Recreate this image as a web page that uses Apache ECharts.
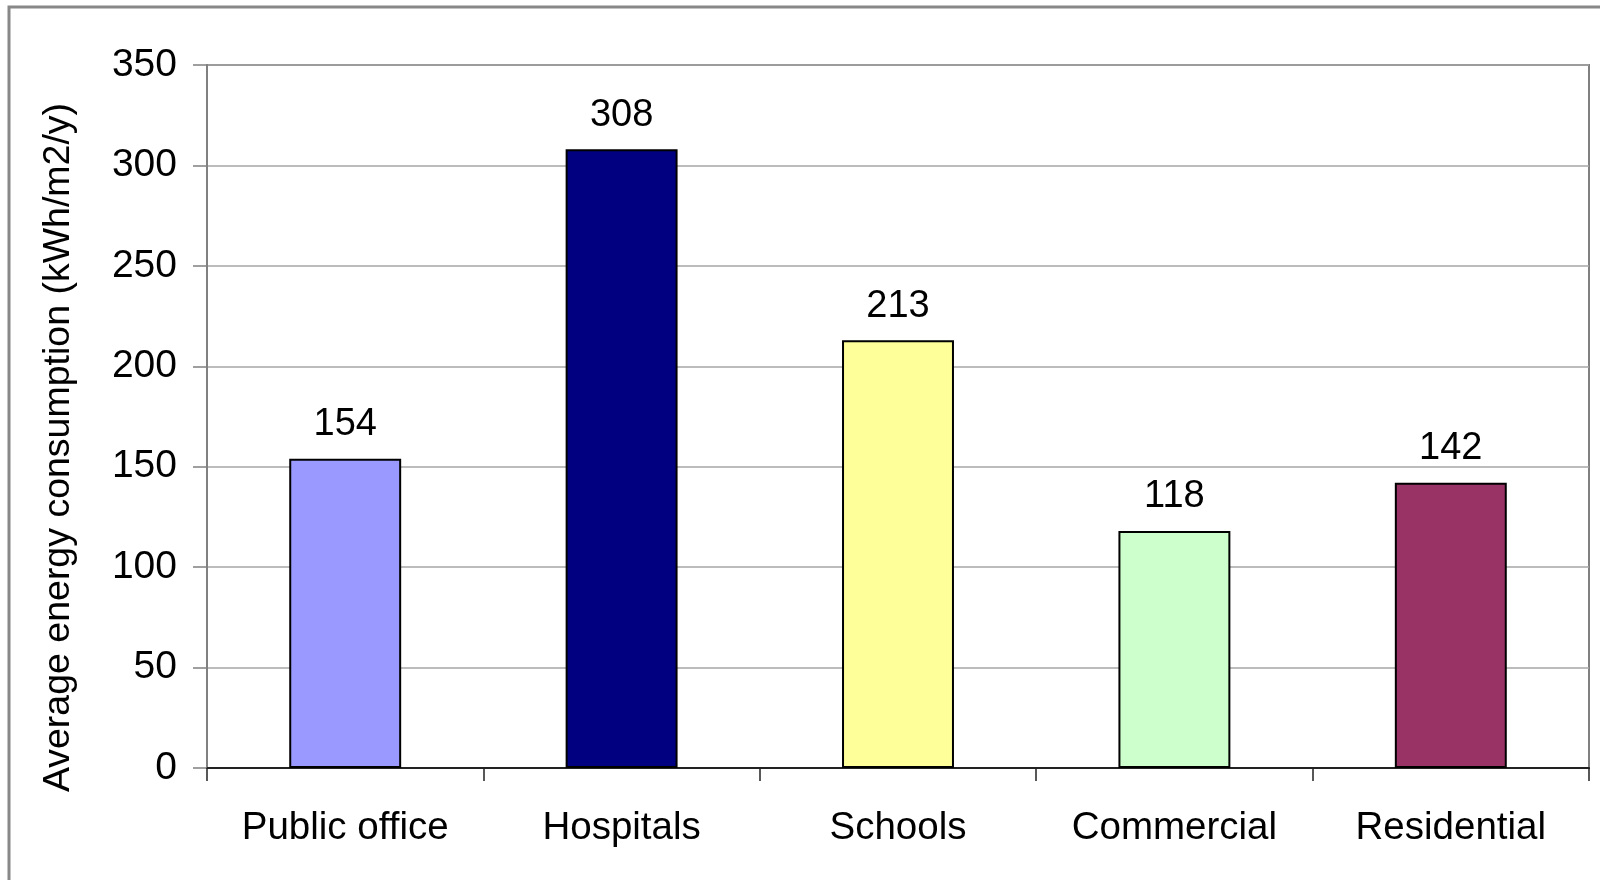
<!DOCTYPE html>
<html><head><meta charset="utf-8">
<script src="https://cdn.jsdelivr.net/npm/echarts@6/dist/echarts.min.js"></script>
<style>html,body{margin:0;padding:0;background:#fff}#c{width:1600px;height:880px}</style>
</head><body><div id="c"></div>
<script>
const categories = ['Public office', 'Hospitals', 'Schools', 'Commercial', 'Residential'];
const values = [154, 308, 213, 118, 142];
const colors = ['#9999FF', '#000080', '#FFFF99', '#CCFFCC', '#993366'];
const yTicks = { min: 0, max: 350, interval: 50 };
const yName = 'Average energy consumption (kWh/m2/y)';

const chart = echarts.init(document.getElementById('c'), null, { renderer: 'canvas' });
const font = 'Liberation Sans, Arial, sans-serif';
chart.setOption({
  animation: false,
  backgroundColor: '#fff',
  graphic: [{
    type: 'rect', shape: { x: 9, y: 7, width: 1700, height: 1000 },
    style: { fill: 'none', stroke: '#888', lineWidth: 3 }, silent: true, z: -10
  }],
  grid: { left: 207, right: 11, top: 65, bottom: 112, show: true, borderColor: '#808080', borderWidth: 2, containLabel: false },
  xAxis: {
    type: 'category', data: categories,
    axisLine: { lineStyle: { color: '#222', width: 2 } },
    axisTick: { show: true, length: 13, lineStyle: { color: '#222', width: 1.5 } },
    axisLabel: { color: '#000', fontFamily: font, fontSize: 38.5, margin: 41 },
    splitLine: { show: false }
  },
  yAxis: {
    type: 'value', min: yTicks.min, max: yTicks.max, interval: yTicks.interval,
    name: yName, nameLocation: 'middle', nameGap: 129, nameRotate: 90,
    nameTextStyle: { color: '#000', fontFamily: font, fontSize: 37.5, padding: [0, 62, 0, 0] },
    axisLine: { show: true, lineStyle: { color: '#808080', width: 2 } },
    axisTick: { show: true, length: 14, lineStyle: { color: '#808080', width: 1.5 } },
    axisLabel: { color: '#000', fontFamily: font, fontSize: 39, margin: 30 },
    splitLine: { show: true, lineStyle: { color: '#a6a6a6', width: 1.5 } }
  },
  series: [{
    type: 'bar', barWidth: '40.5%',
    data: values.map((v, i) => ({ value: v, itemStyle: { color: colors[i] } })),
    itemStyle: { borderColor: '#000', borderWidth: 2 },
    label: { show: true, position: 'top', distance: 15, color: '#000', fontFamily: font, fontSize: 38 }
  }]
});
</script></body></html>
